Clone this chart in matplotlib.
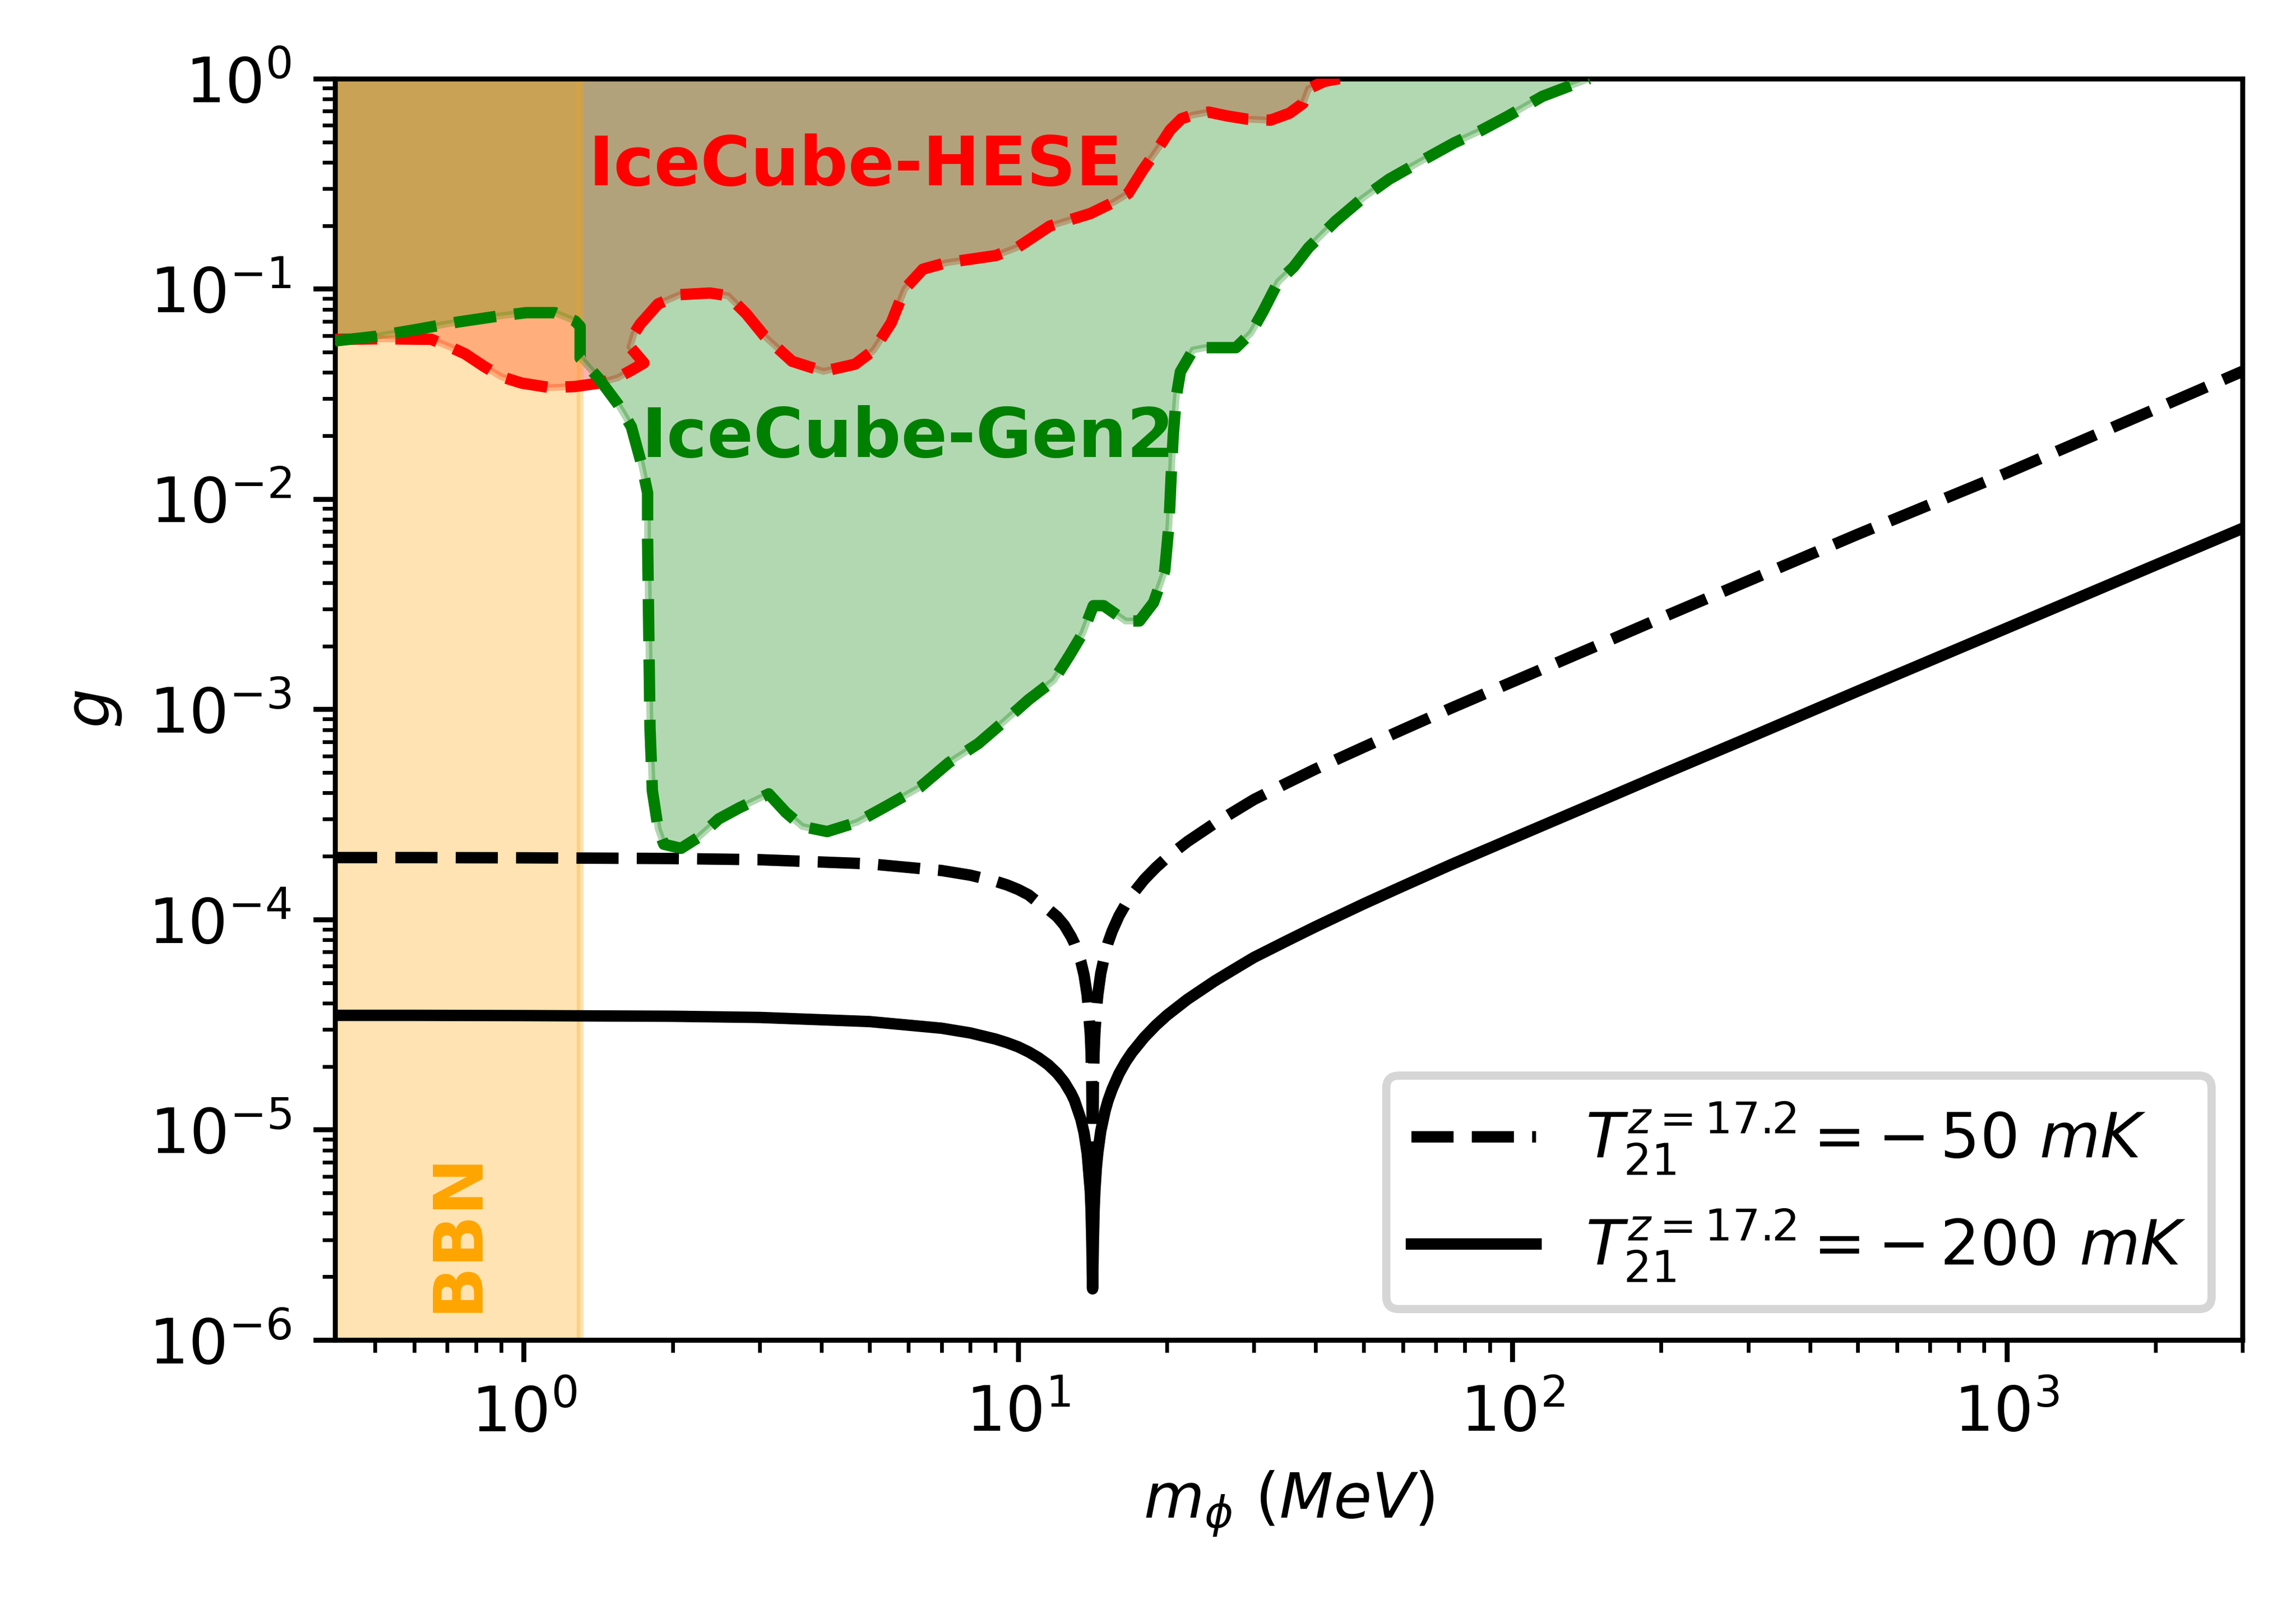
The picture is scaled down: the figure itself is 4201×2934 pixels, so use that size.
import matplotlib
matplotlib.use("Agg")
import matplotlib.pyplot as plt

# ---------------- data ----------------
# IceCube-HESE excluded-region boundary (region above the curve)
hese_m = [0.415, 0.50, 0.54, 0.65, 0.71, 0.76, 0.83, 0.90, 0.99, 1.13, 1.27, 1.42,
          1.55, 1.66, 1.75, 1.64, 1.67, 1.72, 1.87, 2.07, 2.38, 2.59, 2.82, 3.07,
          3.49, 4.04, 4.68, 5.10, 5.54, 5.90, 6.42, 7.15, 9.02, 10.0, 11.6, 14.0,
          15.6, 16.7, 17.9, 19.3, 20.3, 21.4, 22.5, 24.3, 26.5, 29.1, 32.4, 35.4,
          37.7, 38.7, 41.6, 44.7]
hese_g = [0.0575, 0.0578, 0.0578, 0.0575, 0.0528, 0.0491, 0.0428, 0.0382, 0.0356,
          0.0339, 0.0343, 0.0356, 0.0378, 0.0413, 0.0444, 0.053, 0.061, 0.068,
          0.0848, 0.0938, 0.0955, 0.0927, 0.076, 0.0595, 0.0452, 0.0405, 0.0438,
          0.051, 0.069, 0.100, 0.124, 0.133, 0.144, 0.158, 0.199, 0.228, 0.258,
          0.284, 0.369, 0.474, 0.569, 0.644, 0.67, 0.693, 0.664, 0.641, 0.634,
          0.684, 0.762, 0.895, 0.969, 1.0]

# IceCube-Gen2 sensitivity boundary (region above the curve)
gen2_m = [0.415, 0.504, 0.605, 0.735, 0.881, 1.01, 1.156, 1.27, 1.30, 1.30, 1.33,
          1.42, 1.55, 1.65, 1.73, 1.78, 1.78, 1.79, 1.80, 1.82, 1.87, 1.92, 2.08,
          2.25, 2.48, 2.73, 3.13, 3.39, 3.66, 4.11, 4.72, 5.40, 6.33, 7.24, 8.31,
          9.34, 10.5, 11.8, 12.7, 13.5, 14.2, 14.9, 16.5, 17.6, 18.8, 19.8, 20.2,
          20.4, 20.6, 20.9, 21.3, 22.6, 23.9, 27.6, 29.6, 31.3, 33.6, 36.1, 38.7,
          43.9, 49.7, 56.3, 66.1, 76.3, 86.6, 98.1, 115, 138, 143]
gen2_g = [0.0565, 0.0595, 0.064, 0.0695, 0.074, 0.077, 0.077, 0.0703, 0.0662,
          0.0468, 0.0444, 0.0373, 0.0283, 0.0221, 0.0147, 0.0107, 0.0064, 0.00229,
          8.2e-4, 4.1e-4, 2.7e-4, 2.28e-4, 2.18e-4, 2.45e-4, 3.01e-4, 3.40e-4,
          3.96e-4, 3.23e-4, 2.77e-4, 2.62e-4, 2.90e-4, 3.45e-4, 4.26e-4, 5.57e-4,
          6.87e-4, 8.7e-4, 1.11e-3, 1.37e-3, 1.80e-3, 2.29e-3, 3.11e-3, 3.11e-3,
          2.63e-3, 2.63e-3, 3.22e-3, 4.55e-3, 7.6e-3, 0.0128, 0.0200, 0.0308,
          0.0403, 0.0512, 0.0525, 0.0525, 0.0617, 0.078, 0.108, 0.127, 0.157,
          0.210, 0.269, 0.332, 0.411, 0.495, 0.568, 0.664, 0.823, 0.969, 1.0]

# BBN bound (m_phi below this value excluded)
bbn_m_max = 1.3

# 21-cm curves
m_curve = [0.415, 0.6, 1, 2, 3, 5, 7, 8, 9, 9.5, 10, 10.5, 11, 11.5, 12, 12.4,
           12.8, 13.0, 13.4, 13.6, 13.8, 14.0, 14.05, 14.1, 14.15, 14.2, 14.25,
           14.3, 14.4, 14.5, 14.7, 15, 15.2, 15.5, 16, 16.5, 17, 18, 19, 20, 22,
           25, 27, 30, 35, 40, 50, 60, 75, 100, 150, 200, 300, 500, 1000, 2000, 3000]
g_50mK = [1.97e-4, 1.97e-4, 1.965e-4, 1.95e-4, 1.925e-4, 1.84e-4, 1.71e-4, 1.625e-4,
          1.52e-4, 1.46e-4, 1.39e-4, 1.31e-4, 1.2e-4, 1.12e-4, 1.03e-4, 9.4e-5,
          8.3e-5, 7.7e-5, 6.3e-5, 5.44e-5, 4.35e-5, 2.86e-5, 2.34e-5, 1.65e-5, 5e-6,
          1.65e-5, 2.35e-5, 2.88e-5, 3.72e-5, 4.4e-5, 5.55e-5, 6.9e-5, 7.73e-5,
          8.8e-5, 1.04e-4, 1.18e-4, 1.31e-4, 1.55e-4, 1.766e-4, 1.97e-4, 2.345e-4,
          2.87e-4, 3.2e-4, 3.72e-4, 4.46e-4, 5.2e-4, 6.6e-4, 8.0e-4, 1.01e-3,
          1.35e-3, 2.03e-3, 2.72e-3, 4.08e-3, 6.8e-3, 1.33e-2, 2.68e-2, 4.05e-2]
g_200mK = [3.5e-5, 3.5e-5, 3.49e-5, 3.465e-5, 3.42e-5, 3.27e-5, 3.04e-5, 2.887e-5,
           2.70e-5, 2.594e-5, 2.48e-5, 2.346e-5, 2.20e-5, 2.04e-5, 1.855e-5,
           1.686e-5, 1.49e-5, 1.382e-5, 1.12e-5, 9.66e-6, 7.7e-6, 5.1e-6, 4.15e-6,
           2.94e-6, 1.75e-6, 2.94e-6, 4.17e-6, 5.1e-6, 6.61e-6, 7.8e-6, 9.86e-6,
           1.23e-5, 1.373e-5, 1.56e-5, 1.847e-5, 2.1e-5, 2.33e-5, 2.75e-5,
           3.137e-5, 3.5e-5, 4.167e-5, 5.1e-5, 5.69e-5, 6.6e-5, 7.92e-5, 9.25e-5,
           1.186e-4, 1.44e-4, 1.82e-4, 2.43e-4, 3.65e-4, 4.88e-4, 7.3e-4, 1.22e-3,
           2.43e-3, 4.85e-3, 7.25e-3]

label_50 = r'$T_{21}^{z=17.2} = -\,50\ mK$'
label_200 = r'$T_{21}^{z=17.2} = -\,200\ mK$'

xlim = (0.415, 3000)
ylim = (1e-6, 1e0)

# ---------------- figure ----------------
FS = 13.7
fig = plt.figure(figsize=(4201 / 600, 2934 / 600), dpi=600)
ax = fig.add_axes([0.14592, 0.16462, 0.83075, 0.78638])
ax.set_xscale('log')
ax.set_yscale('log')

lo_x = xlim[0] * 0.5
hi_y = ylim[1] * 10
lo_y = ylim[0] * 0.1

# filled regions (closed beyond the axes limits)
ax.fill([lo_x] + hese_m + [hese_m[-1], lo_x],
        [hese_g[0]] + hese_g + [hi_y, hi_y],
        color='red', alpha=0.3, lw=1.5, zorder=1)
ax.fill([lo_x] + gen2_m + [gen2_m[-1], lo_x],
        [gen2_g[0]] + gen2_g + [hi_y, hi_y],
        color='green', alpha=0.3, lw=1.5, zorder=1.1)
ax.fill([lo_x, bbn_m_max, bbn_m_max, lo_x], [lo_y, lo_y, hi_y, hi_y],
        color='orange', alpha=0.3, lw=1.5, zorder=1.2)

# boundaries
ax.plot(hese_m, hese_g, color='red', ls='--', lw=2.5, zorder=3)
ax.plot(gen2_m, gen2_g, color='green', ls='--', lw=2.5, zorder=3.1)

# 21-cm curves
ax.plot(m_curve, g_50mK, color='black', ls='--', lw=2.5, zorder=4, label=label_50)
ax.plot(m_curve, g_200mK, color='black', ls='-', lw=2.5, zorder=4.1, label=label_200)

# annotations
ax.text(1.35, 0.31, 'IceCube-HESE', color='red', fontsize=15, fontweight='bold', zorder=5)
ax.text(1.73, 0.0158, 'IceCube-Gen2', color='green', fontsize=15, fontweight='bold', zorder=5)
ax.text(0.735, 1.35e-6, 'BBN', color='orange', fontsize=15, fontweight='bold',
        rotation=90, ha='center', va='bottom', zorder=5)

ax.set_xlim(*xlim)
ax.set_ylim(*ylim)
ax.set_xlabel(r'$m_{\phi}\ (MeV)$', fontsize=FS, labelpad=5.5)
ax.set_ylabel(r'$g$', fontsize=FS, labelpad=5.5)

ax.tick_params(which='major', length=4.8, width=1.1, labelsize=FS, pad=4.8)
ax.tick_params(which='minor', length=2.74, width=0.82)
for sp in ax.spines.values():
    sp.set_linewidth(1.1)

leg = ax.legend(loc='lower right', fontsize=FS, edgecolor='0.8', borderaxespad=0.5)
leg.get_frame().set_linewidth(1.8)
leg.set_zorder(6)

fig.savefig('out.png', dpi=600)
